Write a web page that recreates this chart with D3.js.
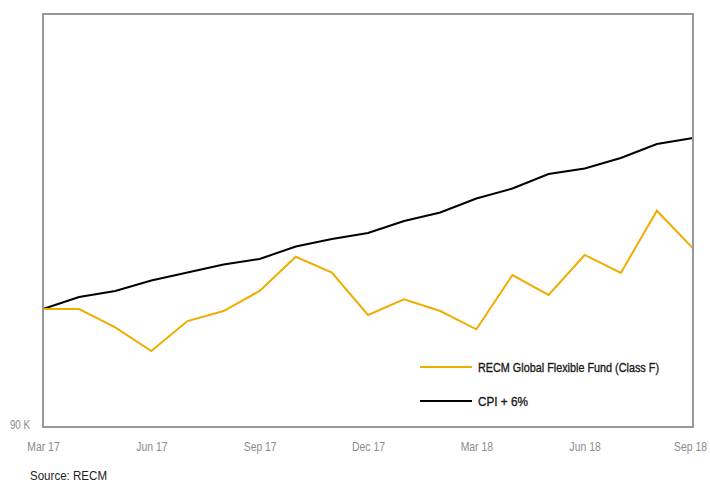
<!DOCTYPE html>
<html><head><meta charset="utf-8">
<script src="https://cdn.jsdelivr.net/npm/d3@7"></script>
<style>body{margin:0;background:#fff}svg{display:block}
text{font-family:"Liberation Sans",Arial,sans-serif}</style>
</head><body><svg id="c" width="710" height="482"></svg>
<script>
const months = ["Mar 17","Apr 17","May 17","Jun 17","Jul 17","Aug 17","Sep 17","Oct 17","Nov 17","Dec 17","Jan 18","Feb 18","Mar 18","Apr 18","May 18","Jun 18","Jul 18","Aug 18","Sep 18"];
const tickLabels = ["Mar 17","Jun 17","Sep 17","Dec 17","Mar 18","Jun 18","Sep 18"];
const fund = [100,100,98.45,96.44,98.98,99.83,101.53,104.43,103.08,99.49,100.82,99.83,98.28,102.88,101.19,104.58,103.05,108.33,105.14];
const cpi = [100,101.02,101.53,102.42,103.09,103.77,104.24,105.3,105.93,106.44,107.46,108.18,109.36,110.21,111.44,111.91,112.8,113.98,114.49];
const seriesNames = ["RECM Global Flexible Fund (Class F)","CPI + 6%"];
const yTicks = [90];

const svg = d3.select("#c");
const m = {l:43, r:693, t:14, b:427};
const x = d3.scalePoint().domain(months).range([m.l, m.r]);
const y = d3.scaleLinear().domain([90,125]).range([m.b, m.t]);
const narrow = 0.8;
function squeeze(sel, k){ sel.each(function(){ const L=this.getComputedTextLength(); d3.select(this).attr("textLength",L*k).attr("lengthAdjust","spacingAndGlyphs"); }); }

const line = d3.line().x((d,i)=>x(months[i])).y(d=>y(d));
svg.append("path").datum(cpi).attr("d",line).attr("fill","none").attr("stroke","#000").attr("stroke-width",2);
svg.append("path").datum(fund).attr("d",line).attr("fill","none").attr("stroke","#EFAD00").attr("stroke-width",2);

// frame
svg.append("rect").attr("x",m.l).attr("y",m.t).attr("width",m.r-m.l).attr("height",m.b-m.t)
  .attr("fill","none").attr("stroke","#999").attr("stroke-width",2);

// x axis labels
const xAxis = d3.axisBottom(x).tickValues(tickLabels).tickSize(0).tickPadding(0);
const gx = svg.append("g").attr("transform",`translate(0,${m.b})`).call(xAxis);
gx.select(".domain").remove();
gx.selectAll("text").attr("y",24).attr("dy",0).attr("fill","#8c8c8c").attr("font-size",13)
  .style("font-family",'"Liberation Sans",Arial,sans-serif').call(squeeze, narrow);
gx.selectAll("text").filter((d,i,n)=>i===n.length-1).attr("x",-3);

// y axis label
const yAxis = d3.axisLeft(y).tickValues(yTicks).tickSize(0).tickPadding(0).tickFormat(d=>d+" K");
const gy = svg.append("g").attr("transform",`translate(${m.l-13},0)`).call(yAxis);
gy.select(".domain").remove();
gy.selectAll("text").attr("fill","#8c8c8c").attr("font-size",12.5).attr("dy","0.15em")
  .style("font-family",'"Liberation Sans",Arial,sans-serif').call(squeeze, 0.78);

// legend
const legCol = ["#EFAD00","#000"];
const legY = [367,401];
const legW = [181, 50];
seriesNames.forEach((n,i)=>{
  svg.append("line").attr("x1",420).attr("x2",472).attr("y1",legY[i]).attr("y2",legY[i])
    .attr("stroke",legCol[i]).attr("stroke-width",2);
  svg.append("text").attr("x",478).attr("y",legY[i]+4.5).text(n)
    .attr("font-size",12.5).attr("fill","#1a1a1a").attr("stroke","#1a1a1a").attr("stroke-width",0.35)
    .attr("textLength",legW[i]).attr("lengthAdjust","spacingAndGlyphs");
});

svg.append("text").attr("x",30).attr("y",480).text("Source: RECM").attr("font-size",13.5).attr("fill","#222")
  .attr("textLength",77).attr("lengthAdjust","spacingAndGlyphs");
</script></body></html>
